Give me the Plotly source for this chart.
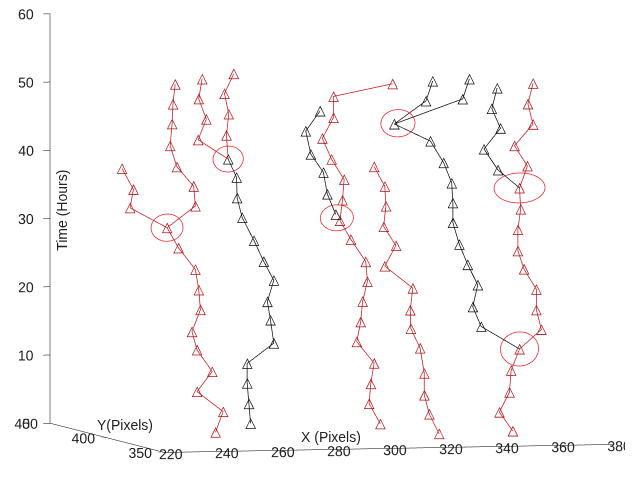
import numpy as np
import plotly.graph_objects as go

# ---- data ----
Y_DEPTH = 390  # Y (pixels) depth of the tracks; the view is almost front-on

t1_x = [254.6, 257.3, 248.0, 253.4, 248.0, 246.2, 249.2, 248.6, 247.4, 241.4, 237.3]
t1_t = [1.0, 4.0, 7.0, 9.9, 13.1, 15.8, 19.0, 21.9, 24.9, 28.1, 31.1]
a_x = [237.3, 224.1, 225.3, 221.2]
a_t = [31.1, 34.1, 36.8, 39.9]
b_x = [237.3, 247.4, 246.8, 240.8, 238.4, 239.1, 239.4, 240.2]
b_t = [31.1, 34.2, 37.1, 40.0, 43.1, 46.3, 49.2, 52.1]
d_low_x = [267.1, 266.5, 265.9, 265.9, 275.4, 274.2, 273.1, 275.4, 271.8, 268.3, 264.1, 262.3, 262.1, 259.1]
d_low_t = [2.2, 5.1, 8.1, 11.0, 13.9, 17.3, 20.0, 23.1, 25.9, 29.0, 32.4, 35.3, 38.3, 41.0]
c_x = [259.1, 248.4, 251.3, 248.6, 249.8]
c_t = [41.0, 43.9, 46.9, 49.9, 52.8]
d_up_x = [259.1, 258.5, 259.3, 257.8, 261.1]
d_up_t = [41.0, 44.5, 47.6, 50.6, 53.5]
e_x = [313.4, 309.4, 310.0, 311.2, 305.0, 306.4, 307.1, 308.8, 308.2, 302.9, 299.0, 299.9, 300.5,
       296.0, 292.7, 296.7, 296.7, 317.8]
e_t = [1.8, 4.8, 7.7, 10.7, 13.9, 16.8, 19.8, 22.7, 25.6, 28.9, 31.7, 34.7, 37.7,
       40.7, 43.8, 46.8, 49.9, 51.6]
e_blk_x = [297.5, 294.5, 293.1, 288.6, 286.8, 291.9]
e_blk_t = [32.6, 35.6, 38.8, 41.5, 44.9, 47.8]
f_x = [334.4, 330.9, 329.1, 329.1, 327.6, 324.3, 324.1, 325.0, 315.0, 319.0, 314.6, 315.4, 315.0, 311.2]
f_t = [0.2, 3.1, 5.9, 9.1, 12.8, 15.7, 18.4, 21.6, 24.9, 27.9, 30.7, 33.7, 36.6, 39.5]
r_low_x = [360.7, 355.9, 359.5, 360.1, 363.1]
r_low_t = [0.4, 3.2, 6.1, 9.3, 12.4]
g_x = [363.1, 349.4, 346.4, 348.2, 344.6, 341.6, 339.3, 339.3, 338.9, 336.0, 331.3, 318.4]
g_t = [12.4, 15.8, 18.7, 21.9, 24.9, 27.9, 31.1, 34.0, 36.9, 39.9, 43.1, 45.7]
g1_x = [318.4, 329.7, 332.1]
g1_t = [45.7, 49.0, 51.9]
g2_x = [318.4, 342.8, 345.2]
g2_t = [45.7, 49.2, 52.1]
i_low_x = [363.1, 370.9, 369.1, 369.1, 364.7, 362.5, 362.5, 363.5, 363.1]
i_low_t = [12.4, 15.2, 18.1, 21.1, 24.1, 26.8, 29.9, 32.9, 36.0]
i_up_x = [363.1, 365.9, 361.3, 367.9, 366.1, 367.9]
i_up_t = [36.0, 39.2, 42.2, 45.3, 48.3, 51.3]
h_x = [363.1, 355.4, 350.4, 356.3, 353.2, 355.1]
h_t = [36.0, 38.7, 41.8, 44.8, 47.7, 50.7]

# division events (ellipse centres)
event_x = [237.3, 259.1, 297.9, 319.7, 363.1, 363.1]
event_t = [31.1, 41.0, 32.1, 45.8, 36.0, 12.4]

x_ticks = [220, 240, 260, 280, 300, 320, 340, 360, 380]
y_ticks = [350, 400, 450]
z_ticks = [0, 10, 20, 30, 40, 50, 60]

# ---- style ----
RED = "#c41a1f"
RED_MK = "#b01419"
BLK = "#111111"
tracks = [
    (t1_x, t1_t, RED, False), (a_x, a_t, RED, True), (b_x, b_t, RED, True),
    (d_low_x, d_low_t, BLK, False), (c_x, c_t, RED, True), (d_up_x, d_up_t, RED, True),
    (e_x, e_t, RED, False), (e_blk_x, e_blk_t, BLK, False), (f_x, f_t, RED, False),
    (r_low_x, r_low_t, RED, False), (g_x, g_t, BLK, True), (g1_x, g1_t, BLK, True),
    (g2_x, g2_t, BLK, True), (i_low_x, i_low_t, RED, True), (i_up_x, i_up_t, RED, True),
    (h_x, h_t, BLK, True),
]
# ellipse half-widths (x units) and half-heights (hours) of the event rings
ring_rx = [5.7, 5.4, 5.9, 6.1, 9.1, 6.8]
ring_rt = [2.0, 1.9, 1.9, 2.0, 2.2, 2.5]

fig = go.Figure()
for xs, ts, col, starts_at_event in tracks:
    txt = ["\u25B3"] * len(xs)
    if starts_at_event:
        txt[0] = ""
    fig.add_trace(go.Scatter3d(
        x=xs, y=[Y_DEPTH] * len(xs), z=ts,
        mode="lines+text", text=txt, textposition="middle center",
        textfont=dict(size=14, color=(RED_MK if col == RED else col), family="DejaVu Sans"),
        line=dict(color=col, width=1.5), hoverinfo="skip", showlegend=False))

theta = np.linspace(0, 2 * np.pi, 61)
for cx, ct, rx, rt in zip(event_x, event_t, ring_rx, ring_rt):
    fig.add_trace(go.Scatter3d(
        x=cx + rx * np.cos(theta), y=[Y_DEPTH] * len(theta), z=ct + rt * np.sin(theta),
        mode="lines", line=dict(color="#e8262c", width=1.5),
        hoverinfo="skip", showlegend=False))

axis_style = dict(showbackground=False, showgrid=False, zeroline=False, showline=True,
                  linecolor="black", linewidth=1, ticks="outside", ticklen=7,
                  tickcolor="black", tickangle=0, tickfont=dict(size=13, color="#222222",
                  family="Liberation Sans, Arial"), showspikes=False,
                  title=dict(text=""), autorange=False)

# view: azimuth ~15 deg, elevation ~4 deg, orthographic
view_dir = np.array([-0.2548, -0.9646, 0.0675])
cam_center = np.array([-0.0288, 0.0021, -0.0785])
eye = 2 * view_dir + cam_center

k = 1.932  # orthographic zoom is carried by the aspect ratio
fig.update_layout(
    width=633, height=480, margin=dict(l=0, r=0, t=0, b=0),
    paper_bgcolor="white",
    font=dict(family="Liberation Sans, Arial", size=13, color="#222222"),
    scene=dict(
        domain=dict(x=[0, 1.0], y=[0, 1.0]),
        xaxis=dict(range=[220, 380], tickvals=x_ticks, **axis_style),
        yaxis=dict(range=[350, 450], tickvals=y_ticks, **axis_style),
        zaxis=dict(range=[0, 60], tickvals=z_ticks, **axis_style),
        aspectmode="manual", aspectratio=dict(x=1.0 * k, y=0.965 * k, z=0.885 * k),
        camera=dict(projection=dict(type="orthographic"),
                    eye=dict(x=eye[0], y=eye[1], z=eye[2]),
                    up=dict(x=0, y=0, z=1),
                    center=dict(x=cam_center[0], y=cam_center[1], z=cam_center[2])),
        annotations=[
            dict(x=280, y=351, z=1.8, text="X (Pixels)", showarrow=False,
                 font=dict(size=14)),
            dict(x=221, y=387, z=2.4, text="Y(Pixels)", showarrow=False,
                 font=dict(size=14)),
            dict(x=221, y=449, z=31.3, text="Time (Hours)", showarrow=False,
                 textangle=-90, xshift=8, font=dict(size=14)),
        ],
    ),
)

fig.write_html("out.html", config={"displayModeBar": False})
